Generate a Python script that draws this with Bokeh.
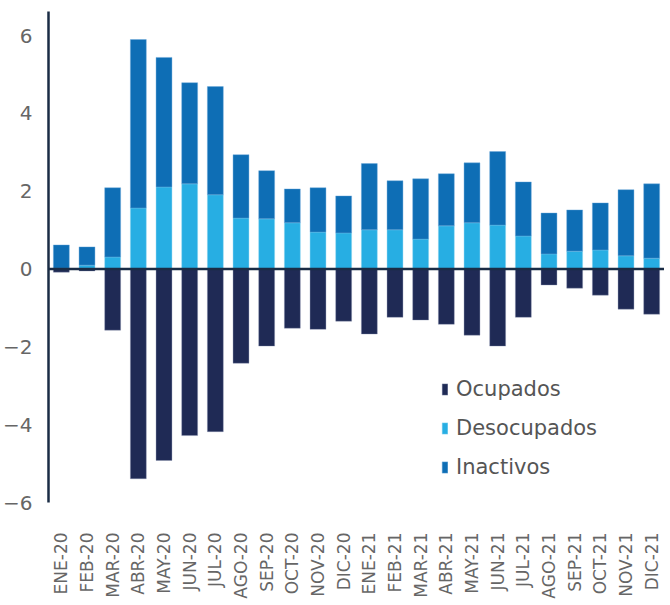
import math
from bokeh.plotting import figure
from bokeh.models import ColumnDataSource, Span, Legend, LegendItem, Range1d, FactorRange
from bokeh.embed import file_html
from bokeh.resources import INLINE

meses = ["ENE-20", "FEB-20", "MAR-20", "ABR-20", "MAY-20", "JUN-20", "JUL-20", "AGO-20",
         "SEP-20", "OCT-20", "NOV-20", "DIC-20", "ENE-21", "FEB-21", "MAR-21", "ABR-21",
         "MAY-21", "JUN-21", "JUL-21", "AGO-21", "SEP-21", "OCT-21", "NOV-21", "DIC-21"]
ocupados = [-0.08, -0.05, -1.57, -5.39, -4.92, -4.28, -4.18, -2.42,
            -1.98, -1.52, -1.55, -1.34, -1.67, -1.24, -1.31, -1.42,
            -1.70, -1.98, -1.24, -0.41, -0.49, -0.67, -1.03, -1.16]
desocupados = [0.02, 0.10, 0.31, 1.57, 2.11, 2.19, 1.91, 1.31,
               1.29, 1.19, 0.95, 0.93, 1.01, 1.01, 0.77, 1.11,
               1.19, 1.13, 0.85, 0.39, 0.46, 0.49, 0.34, 0.28]
total_positivo = [0.62, 0.57, 2.09, 5.90, 5.44, 4.79, 4.69, 2.94,
                  2.53, 2.06, 2.09, 1.88, 2.71, 2.27, 2.32, 2.45,
                  2.73, 3.02, 2.24, 1.44, 1.52, 1.70, 2.04, 2.19]
inactivos = [round(t - d, 2) for t, d in zip(total_positivo, desocupados)]

C_OCU = "#1f2a55"
C_DES = "#27aee3"
C_INA = "#0e6eb5"
FONT = "DejaVu Sans"

src = ColumnDataSource(dict(mes=meses, ocupados=ocupados,
                            desocupados=desocupados, inactivos=inactivos))

p = figure(x_range=FactorRange(*meses, range_padding=0), y_range=Range1d(-6, 6.62),
           width=664, height=604, output_backend="svg", toolbar_location=None,
           min_border_left=46, min_border_right=0, min_border_top=11, min_border_bottom=102)
p.outline_line_color = None
p.grid.grid_line_color = None
p.background_fill_color = "white"

w = 0.62
r_ocu = p.vbar(x="mes", top="ocupados", bottom=0, width=w, source=src,
               fill_color=C_OCU, line_color="#8a93b0", line_width=0.6, line_alpha=0.6)
r_stack = p.vbar_stack(["desocupados", "inactivos"], x="mes", width=w, source=src,
                       fill_color=[C_DES, C_INA], line_color=["#8fd6f2", "#6aa8dc"],
                       line_width=0.6, line_alpha=0.7)

p.add_layout(Span(location=0, dimension="width", line_color="#1a2c45", line_width=2.5))

ya = p.yaxis[0]
ya.ticker = [-6, -4, -2, 0, 2, 4, 6]
ya.axis_line_color = "#1a2c45"
ya.axis_line_width = 2.5
ya.major_tick_line_color = None
ya.minor_tick_line_color = None
ya.major_label_text_font = FONT
ya.major_label_text_font_size = "20px"
ya.major_label_text_color = "#666666"
ya.major_label_standoff = 10

xa = p.xaxis[0]
xa.axis_line_color = None
xa.major_tick_line_color = None
xa.minor_tick_line_color = None
xa.major_label_orientation = math.pi / 2
xa.major_label_text_font = FONT
xa.major_label_text_font_size = "17px"
xa.major_label_text_color = "#666666"
xa.major_label_standoff = 24

legend = Legend(items=[LegendItem(label="Ocupados", renderers=[r_ocu]),
                       LegendItem(label="Desocupados", renderers=[r_stack[0]]),
                       LegendItem(label="Inactivos", renderers=[r_stack[1]])],
                location=(393, 22), orientation="vertical",
                glyph_width=7, glyph_height=14, label_height=26, spacing=13,
                padding=0, margin=0, label_standoff=8,
                label_text_font=FONT, label_text_font_size="21px",
                label_text_color="#555555", border_line_color=None,
                background_fill_alpha=0)
p.add_layout(legend, "center")

open("out.html", "w").write(file_html(p, INLINE))
